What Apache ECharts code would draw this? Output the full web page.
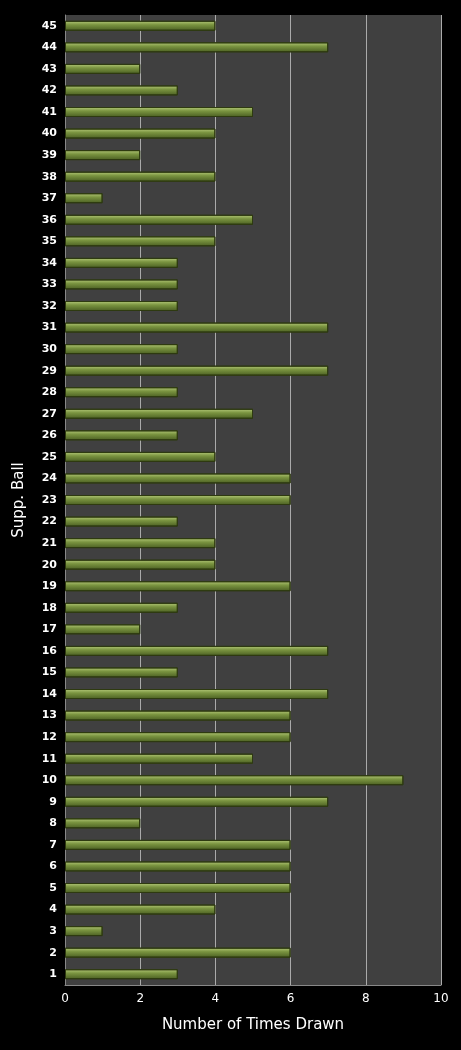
<!DOCTYPE html>
<html><head><meta charset="utf-8">
<script src="https://cdn.jsdelivr.net/npm/echarts@6/dist/echarts.min.js"></script>
<style>html,body{margin:0;background:#000}#c{width:461px;height:1050px}</style>
</head><body><div id="c"></div>
<script>
const categories = Array.from({length:45},(_,i)=>String(i+1));
const timesDrawn = [3,6,1,4,6,6,6,2,7,9,5,6,6,7,3,7,2,3,6,4,4,3,6,6,4,3,5,3,7,3,7,3,3,3,4,5,1,4,2,4,5,3,2,7,4];
const xTicks = [0,2,4,6,8,10];
const chart = echarts.init(document.getElementById('c'));
chart.setOption({
  backgroundColor:'#000',
  grid:{left:65,right:20,top:15,bottom:65,backgroundColor:'#404040',show:true,borderWidth:0},
  xAxis:{type:'value',min:xTicks[0],max:xTicks[xTicks.length-1],interval:2,
    name:'Number of Times Drawn',nameLocation:'middle',nameGap:33,
    nameTextStyle:{color:'#fff',fontSize:15,fontFamily:'Verdana, DejaVu Sans'},
    axisLabel:{color:'#fff',fontSize:12,fontFamily:'Verdana, DejaVu Sans'},
    axisLine:{show:true,lineStyle:{color:'#888'}},axisTick:{show:false},
    splitLine:{lineStyle:{color:'#aaa',width:1}}},
  yAxis:{type:'category',data:categories,
    name:'Supp. Ball',nameLocation:'middle',nameGap:38,
    nameTextStyle:{color:'#fff',fontSize:15,fontFamily:'Verdana, DejaVu Sans'},
    axisLabel:{color:'#fff',fontSize:11,fontWeight:'bold',fontFamily:'Verdana, DejaVu Sans'},
    axisLine:{show:true,lineStyle:{color:'#888'}},axisTick:{show:false}},
  series:[{type:'bar',data:timesDrawn,barWidth:10,
    itemStyle:{borderColor:'#2e3a10',borderWidth:1,
      color:new echarts.graphic.LinearGradient(0,0,0,1,[
        {offset:0,color:'#b5c97a'},{offset:0.4,color:'#7a9440'},{offset:1,color:'#4a5e22'}])}}]
});
</script></body></html>
